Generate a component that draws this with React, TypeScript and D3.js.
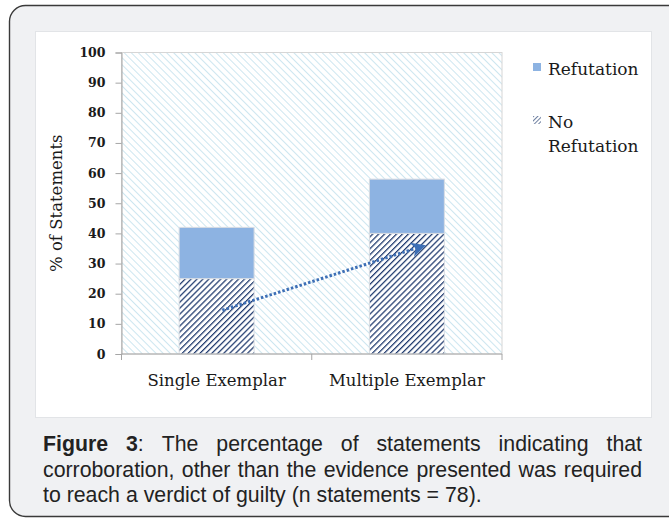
import React, { useEffect, useRef } from "react";
import * as d3 from "d3";

const categories = ["Single Exemplar", "Multiple Exemplar"];
const noRefutation = [25, 40];
const refutation = [17, 18];
const yTicks = [0, 10, 20, 30, 40, 50, 60, 70, 80, 90, 100];
const seriesNames = ["Refutation", "No Refutation"];
// arrow drawn on the chart, in category-index / value units
const arrowFrom = { index: 0.03, value: 14.5 };
const arrowTo = { index: 1.07, value: 35.5 };

const captionLines: { text: string; bold: boolean }[][][] = [
  [
    [{ text: "Figure", bold: true }],
    [{ text: "3", bold: true }, { text: ":", bold: false }],
    ...["The", "percentage", "of", "statements", "indicating", "that"].map((w) => [{ text: w, bold: false }]),
  ],
  "corroboration, other than the evidence presented was required".split(" ").map((w) => [{ text: w, bold: false }]),
  "to reach a verdict of guilty (n statements = 78).".split(" ").map((w) => [{ text: w, bold: false }]),
];

const W = 669;
const H = 519;

export default function App() {
  const ref = useRef<SVGSVGElement | null>(null);

  useEffect(() => {
    const svg = d3.select(ref.current!);
    svg.selectAll("*").remove();

    const defs = svg.append("defs");
    const bgPat = defs
      .append("pattern")
      .attr("id", "bgHatch")
      .attr("patternUnits", "userSpaceOnUse")
      .attr("width", 5)
      .attr("height", 5)
      .attr("patternTransform", "rotate(-45)");
    bgPat.append("rect").attr("width", 5).attr("height", 5).attr("fill", "#ffffff");
    bgPat.append("line").attr("x1", 0).attr("y1", 0).attr("x2", 0).attr("y2", 5).attr("stroke", "#cde6f0").attr("stroke-width", 2);

    const barPat = defs
      .append("pattern")
      .attr("id", "barHatch")
      .attr("patternUnits", "userSpaceOnUse")
      .attr("width", 4.2)
      .attr("height", 4.2)
      .attr("patternTransform", "rotate(45)");
    barPat.append("rect").attr("width", 4.2).attr("height", 4.2).attr("fill", "#ffffff");
    barPat.append("line").attr("x1", 0).attr("y1", 0).attr("x2", 0).attr("y2", 4.2).attr("stroke", "#1f3a6e").attr("stroke-width", 2.5);

    const legPat = defs
      .append("pattern")
      .attr("id", "legHatch")
      .attr("patternUnits", "userSpaceOnUse")
      .attr("width", 3)
      .attr("height", 3)
      .attr("patternTransform", "rotate(45)");
    legPat.append("rect").attr("width", 3).attr("height", 3).attr("fill", "#ffffff");
    legPat.append("line").attr("x1", 0).attr("y1", 0).attr("x2", 0).attr("y2", 3).attr("stroke", "#1f3a6e").attr("stroke-width", 1.3);

    defs
      .append("marker")
      .attr("id", "arrowHead")
      .attr("viewBox", "0 0 10 10")
      .attr("refX", 6)
      .attr("refY", 5)
      .attr("markerWidth", 5)
      .attr("markerHeight", 5)
      .attr("markerUnits", "strokeWidth")
      .attr("orient", "auto")
      .append("path")
      .attr("d", "M0,0 L10,5 L0,10 L3,5 Z")
      .attr("fill", "#3d6fb6");

    // page & frame
    svg.append("rect").attr("width", W).attr("height", H).attr("fill", "#ffffff");
    svg
      .append("rect")
      .attr("x", 9.5)
      .attr("y", 5.5)
      .attr("width", 700)
      .attr("height", 511)
      .attr("rx", 16)
      .attr("fill", "#f0f1f3")
      .attr("stroke", "#3a3a3a")
      .attr("stroke-width", 1.4);

    // white chart area
    svg
      .append("rect")
      .attr("x", 35.5)
      .attr("y", 31.5)
      .attr("width", 616)
      .attr("height", 386)
      .attr("fill", "#ffffff")
      .attr("stroke", "#e2e4e7")
      .attr("stroke-width", 1);

    const left = 121.5;
    const right = 502;
    const top = 52.5;
    const bottom = 354;

    const x = d3.scaleBand<string>().domain(categories).range([left, right]).paddingInner(0.606).paddingOuter(0.303);
    const y = d3.scaleLinear().domain([0, 100]).range([bottom, top]);
    const xi = d3
      .scaleLinear()
      .domain([0, 1])
      .range([x(categories[0])! + x.bandwidth() / 2, x(categories[1])! + x.bandwidth() / 2]);

    // plot background
    svg
      .append("rect")
      .attr("x", left)
      .attr("y", y(100))
      .attr("width", right - left)
      .attr("height", y(0) - y(100))
      .attr("fill", "url(#bgHatch)")
      .attr("stroke", "#d6d6d6")
      .attr("stroke-width", 1);

    const serif = "'DejaVu Serif', serif";

    // bars
    const g = svg.append("g");
    categories.forEach((c, i) => {
      g.append("rect")
        .attr("x", x(c)!)
        .attr("y", y(noRefutation[i]))
        .attr("width", x.bandwidth())
        .attr("height", y(0) - y(noRefutation[i]))
        .attr("fill", "url(#barHatch)")
        .attr("stroke", "#d9dde3")
        .attr("stroke-width", 1);
      g.append("rect")
        .attr("x", x(c)!)
        .attr("y", y(noRefutation[i] + refutation[i]))
        .attr("width", x.bandwidth())
        .attr("height", y(noRefutation[i]) - y(noRefutation[i] + refutation[i]))
        .attr("fill", "#8db3e2")
        .attr("stroke", "#d9dde3")
        .attr("stroke-width", 1);
    });

    // axes
    const yAxis = svg
      .append("g")
      .attr("transform", `translate(${left},0)`)
      .call(d3.axisLeft(y).tickValues(yTicks).tickSize(6).tickPadding(10));
    yAxis.select(".domain").attr("stroke", "#a6a6a6");
    yAxis.selectAll(".tick line").attr("stroke", "#a6a6a6");
    yAxis
      .selectAll(".tick text")
      .attr("font-family", serif)
      .attr("font-weight", "bold")
      .attr("font-size", 12.5)
      .attr("fill", "#1a1a1a");

    const xAxis = svg
      .append("g")
      .attr("transform", `translate(0,${bottom})`)
      .call(d3.axisBottom(x).tickSize(0).tickPadding(20));
    xAxis.select(".domain").attr("stroke", "#a6a6a6").attr("d", `M${left},0H${right}`);
    xAxis
      .selectAll(".tick text")
      .attr("font-family", serif)
      .attr("font-size", 16.5)
      .attr("fill", "#1a1a1a");
    const edges = [left, left + x.step(), right];
    xAxis
      .selectAll("line.edge")
      .data(edges)
      .enter()
      .append("line")
      .attr("x1", (d) => d)
      .attr("x2", (d) => d)
      .attr("y1", 0)
      .attr("y2", 6)
      .attr("stroke", "#a6a6a6");

    // y title
    svg
      .append("text")
      .attr("transform", `translate(62,${(top + bottom) / 2}) rotate(-90)`)
      .attr("text-anchor", "middle")
      .attr("font-family", serif)
      .attr("font-size", 16.5)
      .attr("fill", "#1a1a1a")
      .text("% of Statements");

    // arrow
    svg
      .append("line")
      .attr("x1", xi(arrowFrom.index))
      .attr("y1", y(arrowFrom.value))
      .attr("x2", xi(arrowTo.index))
      .attr("y2", y(arrowTo.value))
      .attr("stroke", "#3d6fb6")
      .attr("stroke-width", 3)
      .attr("stroke-dasharray", "2.5,2")
      .attr("marker-end", "url(#arrowHead)");

    // legend
    const lx = 533;
    svg.append("rect").attr("x", lx).attr("y", 63).attr("width", 8).attr("height", 8).attr("fill", "#8db3e2");
    svg
      .append("text")
      .attr("x", 548)
      .attr("y", 75)
      .attr("font-family", serif)
      .attr("font-size", 17)
      .attr("fill", "#1a1a1a")
      .text(seriesNames[0]);
    svg.append("rect").attr("x", lx).attr("y", 116).attr("width", 8).attr("height", 8).attr("fill", "url(#legHatch)");
    const t2 = svg
      .append("text")
      .attr("font-family", serif)
      .attr("font-size", 17)
      .attr("fill", "#1a1a1a");
    const parts = seriesNames[1].split(" ");
    t2.append("tspan").attr("x", 548).attr("y", 128).text(parts[0]);
    t2.append("tspan").attr("x", 548).attr("y", 152).text(parts[1]);

    // caption
    const cx0 = 43;
    const cx1 = 642;
    const baselines = [451, 477, 502];
    const sans = "'Liberation Sans', Arial, sans-serif";
    captionLines.forEach((words, li) => {
      const wg = svg.append("g");
      const widths: number[] = [];
      const nodes: any[] = [];
      words.forEach((segs) => {
        const t = wg
          .append("text")
          .attr("y", baselines[li])
          .attr("font-family", sans)
          .attr("font-size", 21.3)
          .attr("fill", "#222222");
        segs.forEach((s) => {
          t.append("tspan").attr("font-weight", s.bold ? "bold" : "normal").text(s.text);
        });
        nodes.push(t);
        widths.push((t.node() as SVGTextElement).getComputedTextLength());
      });
      const total = d3.sum(widths);
      const justify = li < captionLines.length - 1;
      const space = justify ? (cx1 - cx0 - total) / (words.length - 1) : 21.3 * 0.278;
      let cx = cx0;
      nodes.forEach((t, i) => {
        t.attr("x", cx);
        cx += widths[i] + space;
      });
    });
  }, []);

  return <svg ref={ref} width={W} height={H} style={{ position: "absolute", left: 0, top: 0 }} />;
}
